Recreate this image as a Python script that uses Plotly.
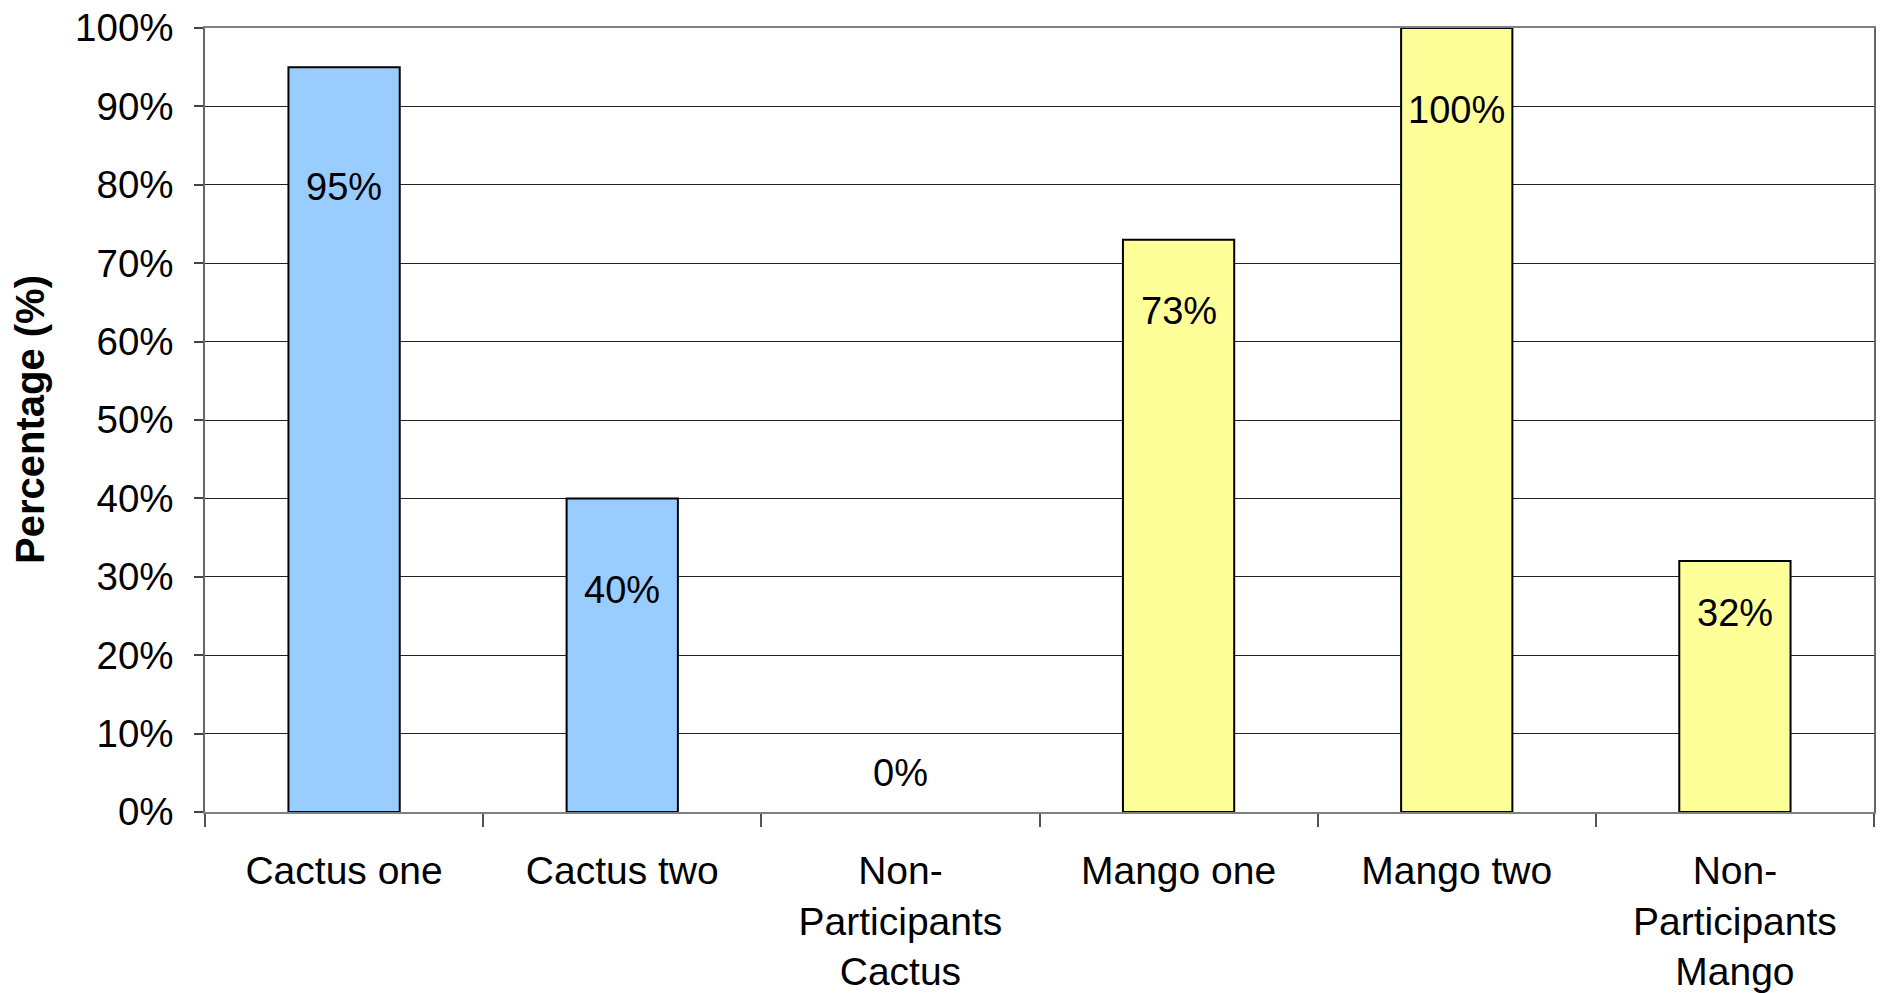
import plotly.graph_objects as go

categories = ["Cactus one", "Cactus two", "Non-<br>Participants<br>Cactus",
              "Mango one", "Mango two", "Non-<br>Participants<br>Mango"]
values = [0.95, 0.40, 0.00, 0.73, 1.00, 0.32]
bar_colors = ["#99CCFF", "#99CCFF", "#99CCFF", "#FFFF99", "#FFFF99", "#FFFF99"]
label_texts = ["95%", "40%", "0%", "73%", "100%", "32%"]
# vertical placement of the value labels (axis units)
label_pos = [0.797, 0.283, 0.050, 0.639, 0.896, 0.254]

outline_widths = [0 if v == 0 else 2 for v in values]

fig = go.Figure()
fig.add_trace(go.Bar(
    x=categories, y=values,
    marker=dict(color=bar_colors, line=dict(color="#000000", width=outline_widths)),
    hoverinfo="skip",
))

for c, t, p in zip(categories, label_texts, label_pos):
    fig.add_annotation(x=c, y=p, text=t, showarrow=False, xref="x", yref="y",
                       xanchor="center", yanchor="middle",
                       font=dict(family="Liberation Sans, Arial, sans-serif", size=38, color="#000"))

fig.add_annotation(x=0, y=0.5, xref="paper", yref="paper", xshift=-175,
                   text="<b>Percentage (%)</b>", textangle=-90, showarrow=False,
                   xanchor="center", yanchor="middle",
                   font=dict(family="Liberation Sans, Arial, sans-serif", size=40, color="#000"))

fig.update_layout(
    width=1883, height=993,
    margin=dict(l=205, r=9, t=28, b=181, autoexpand=False),
    paper_bgcolor="white", plot_bgcolor="white",
    bargap=0.6, showlegend=False,
    font=dict(family="Liberation Sans, Arial, sans-serif", color="#000"),
)
fig.update_xaxes(
    type="category", tickson="boundaries", ticks="outside", ticklen=13,
    tickcolor="#555", tickwidth=1.5,
    showline=True, linecolor="#808080", linewidth=2, mirror=True,
    showgrid=False, automargin=False,
    tickfont=dict(family="Liberation Sans, Arial, sans-serif", size=39),
    ticklabelstandoff=23,
)
fig.update_yaxes(
    range=[0, 1], dtick=0.1, tickformat=".0%",
    ticks="outside", ticklen=9, tickcolor="#444", tickwidth=1.5,
    showline=True, linecolor="#666", linewidth=1.5, mirror=True,
    showgrid=True, gridcolor="#222", gridwidth=1,
    zeroline=False, automargin=False,
    tickfont=dict(family="Liberation Sans, Arial, sans-serif", size=38.5),
    ticklabelstandoff=13,
)

fig.write_html("out.html")
